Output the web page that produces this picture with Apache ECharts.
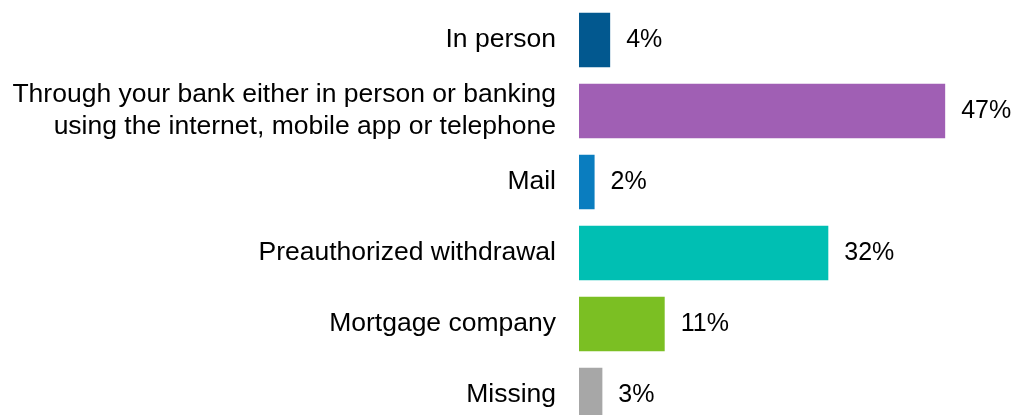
<!DOCTYPE html>
<html><head><meta charset="utf-8">
<script src="https://cdn.jsdelivr.net/npm/echarts@6/dist/echarts.min.js"></script>
<style>html,body{margin:0;padding:0;background:#fff;overflow:hidden}#c{width:1016px;height:431px}</style>
</head><body><div id="c"></div>
<script>
const categories = ["In person", "Through your bank either in person or banking\nusing the internet, mobile app or telephone", "Mail", "Preauthorized withdrawal", "Mortgage company", "Missing"];
const values = [4, 47, 2, 32, 11, 3];
const colors = ["#02588F", "#A05FB4", "#0A7DBF", "#00BFB3", "#7BBF23", "#A7A7A7"];

const chart = echarts.init(document.getElementById('c'));
chart.setOption({
  animation: false,
  grid: { left: 579, right: 8.5, top: 4.5, bottom: 0.5, containLabel: false },
  xAxis: { type: 'value', min: 0, max: 55, show: false },
  yAxis: {
    type: 'category', inverse: true, data: categories,
    axisLine: { show: false }, axisTick: { show: false },
    axisLabel: { color: '#000', fontFamily: 'Liberation Sans, Arial, sans-serif', fontSize: 26.5, lineHeight: 32, margin: 23, align: 'right' }
  },
  series: [{
    type: 'bar', barWidth: 54.5,
    data: values.map((v, i) => ({ value: v, itemStyle: { color: colors[i] } })),
    label: { show: true, position: 'right', distance: 16, color: '#000', fontFamily: 'Liberation Sans, Arial, sans-serif', fontSize: 25, formatter: p => p.value + '%' }
  }]
});
</script></body></html>
